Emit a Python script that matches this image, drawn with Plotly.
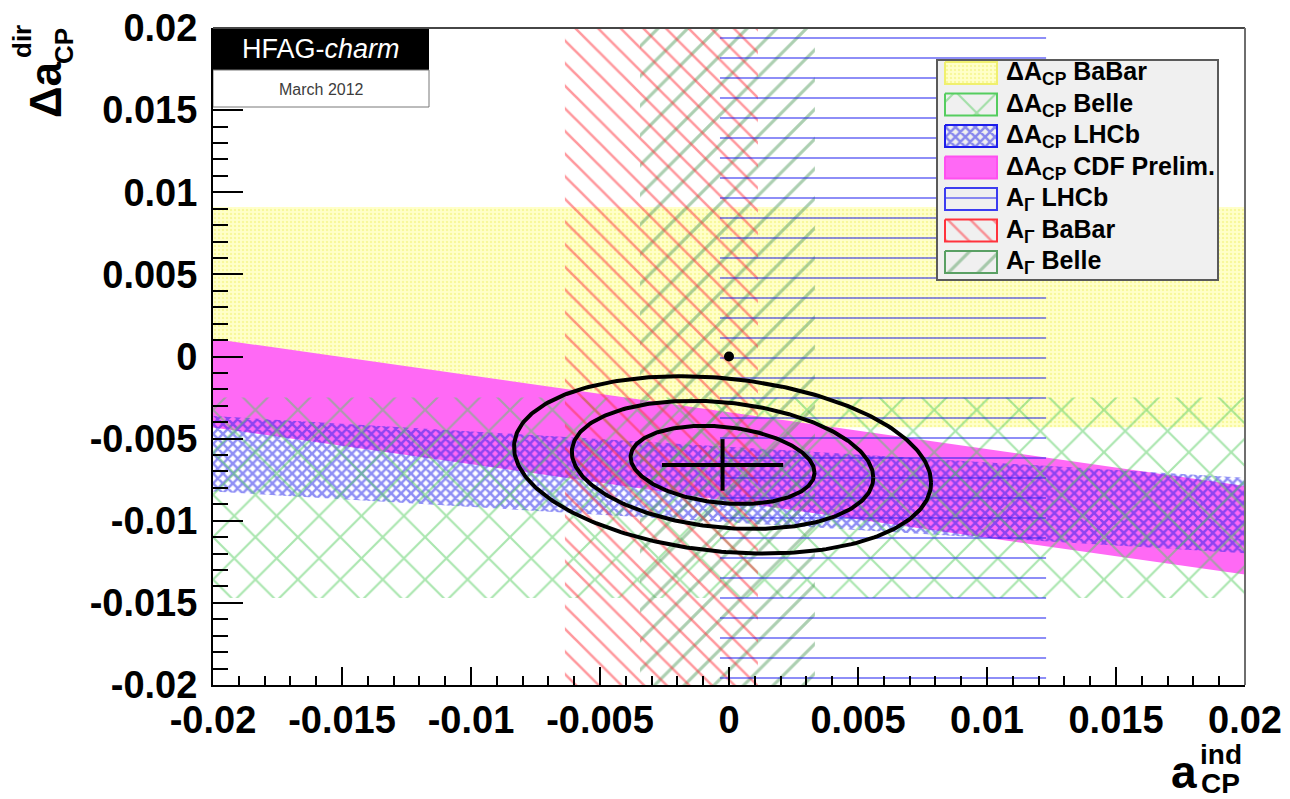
import numpy as np
import plotly.graph_objects as go

# ---------------- data ----------------
tick_vals = [-0.02, -0.015, -0.01, -0.005, 0.0, 0.005, 0.01, 0.015, 0.02]
tick_text = ["-0.02", "-0.015", "-0.01", "-0.005", "0", "0.005", "0.01", "0.015", "0.02"]

# Delta A_CP bands: delta a_dir = dacp_value - dacp_tfrac * a_ind  (+/- dacp_err)
dacp_labels = ["BaBar", "Belle", "LHCb", "CDF Prelim."]
dacp_value = [0.0024, -0.0086, -0.0078, -0.0061]
dacp_err = [0.0067, 0.0061, 0.0023, 0.0027]
dacp_tfrac = [0.0, 0.0, 0.094, 0.224]

# A_Gamma bands: a_ind = ag_value +/- ag_err
ag_labels = ["LHCb", "BaBar", "Belle"]
ag_value = [0.00597, -0.00262, -0.00006]
ag_err = [0.00632, 0.00374, 0.00339]

# combined fit
fit_a_ind = -0.00025
fit_da_dir = -0.0066
fit_sig_a = 0.00235
fit_sig_d = 0.00157
fit_rho = -0.2
contour_dchi2 = [2.30, 6.18, 11.83]
no_cpv_point = [0.0, 0.0]

# ---------------- styles ----------------
FONT = "Liberation Sans"
dacp_style = {
    "BaBar": dict(fillcolor="rgb(254,254,190)", pattern=dict(shape=".", size=4, solidity=0.3,
                  fgcolor="rgb(240,240,110)", bgcolor="rgb(255,255,202)"), edge="rgb(240,240,110)"),
    "Belle": dict(fillcolor="rgb(85,205,95)", pattern=dict(shape="x", size=30, solidity=0.14,
                  fgcolor="rgb(85,205,95)", bgcolor="rgba(0,0,0,0)"), edge="rgb(85,205,95)"),
    "LHCb": dict(fillcolor="rgb(30,30,235)", pattern=dict(shape="x", size=7, solidity=0.6,
                 fgcolor="rgb(30,30,235)", bgcolor="rgba(0,0,0,0)"), edge="rgb(30,30,235)"),
    "CDF Prelim.": dict(fillcolor="rgb(255,105,245)", pattern=None, edge="rgb(255,80,240)"),
}
ag_style = {
    "LHCb": dict(fillcolor="rgb(30,30,240)", pattern=dict(shape="-", size=20, solidity=0.1,
                 fgcolor="rgb(30,30,240)", bgcolor="rgba(0,0,0,0)"), edge="rgb(60,60,240)"),
    "BaBar": dict(fillcolor="rgb(255,50,60)", pattern=dict(shape="\\", size=16, solidity=0.16,
                  fgcolor="rgb(255,50,60)", bgcolor="rgba(0,0,0,0)"), edge="rgb(255,50,60)"),
    "Belle": dict(fillcolor="rgb(90,160,100)", pattern=dict(shape="/", size=21, solidity=0.15,
                  fgcolor="rgb(90,160,100)", bgcolor="rgba(0,0,0,0)"), edge="rgb(90,160,100)"),
}

# reference pixel frame of the plot area; OFF compensates the page's body margin
PL, PR, PT, PB = 213, 1245, 28, 685
W, H = 1290, 799
OFF = 8


def px(x):
    return (x - PL) / (PR - PL)


def py(y):
    return (PB - y) / (PB - PT)


fig = go.Figure()


def band_trace(xs, ys, st, xaxis="x", yaxis="y", line=None):
    kw = dict(x=xs, y=ys, fill="toself", mode="lines", hoverinfo="skip", showlegend=False,
              xaxis=xaxis, yaxis=yaxis, fillcolor=st["fillcolor"])
    kw["line"] = line if line else dict(width=0, color="rgba(0,0,0,0)")
    if st["pattern"] is not None:
        kw["fillpattern"] = st["pattern"]
    return go.Scatter(**kw)


# Delta A_CP bands (draw order: BaBar, CDF, LHCb, Belle)
xa = np.array([-0.025, 0.025])
for name in ["BaBar", "CDF Prelim.", "LHCb", "Belle"]:
    i = dacp_labels.index(name)
    centre = dacp_value[i] - dacp_tfrac[i] * xa
    xs = [xa[0], xa[1], xa[1], xa[0], xa[0]]
    ys = [centre[0] + dacp_err[i], centre[1] + dacp_err[i], centre[1] - dacp_err[i],
          centre[0] - dacp_err[i], centre[0] + dacp_err[i]]
    fig.add_trace(band_trace(xs, ys, dacp_style[name]))

# A_Gamma bands
for name in ["Belle", "BaBar", "LHCb"]:
    i = ag_labels.index(name)
    lo, hi = ag_value[i] - ag_err[i], ag_value[i] + ag_err[i]
    xs = [lo, hi, hi, lo, lo]
    ys = [-0.025, -0.025, 0.025, 0.025, -0.025]
    fig.add_trace(band_trace(xs, ys, ag_style[name]))

# combined-fit contours
t = np.linspace(0, 2 * np.pi, 300)
for d2 in contour_dchi2:
    r = np.sqrt(d2)
    ex = fit_a_ind + r * fit_sig_a * np.cos(t)
    ey = fit_da_dir + r * fit_sig_d * (fit_rho * np.cos(t) + np.sqrt(1 - fit_rho ** 2) * np.sin(t))
    fig.add_trace(go.Scatter(x=ex, y=ey, mode="lines", line=dict(color="black", width=4),
                             hoverinfo="skip", showlegend=False))

# central value with 1 sigma errors
fig.add_trace(go.Scatter(x=[fit_a_ind - fit_sig_a, fit_a_ind + fit_sig_a], y=[fit_da_dir, fit_da_dir],
                         mode="lines", line=dict(color="black", width=4), showlegend=False, hoverinfo="skip"))
fig.add_trace(go.Scatter(x=[fit_a_ind, fit_a_ind], y=[fit_da_dir - fit_sig_d, fit_da_dir + fit_sig_d],
                         mode="lines", line=dict(color="black", width=4), showlegend=False, hoverinfo="skip"))
# no-CPV point
fig.add_trace(go.Scatter(x=[no_cpv_point[0]], y=[no_cpv_point[1]], mode="markers",
                         marker=dict(color="black", size=10), showlegend=False, hoverinfo="skip"))

# ---------------- custom legend (pixel-coordinate overlay axes) ----------------
LX0, LX1, LY0, LY1 = 937, 1218, 60, 280
fig.add_trace(go.Scatter(x=[LX0, LX1, LX1, LX0, LX0], y=[LY0, LY0, LY1, LY1, LY0], fill="toself",
                         fillcolor="rgb(240,240,240)", mode="lines", line=dict(width=0),
                         xaxis="x2", yaxis="y2", showlegend=False, hoverinfo="skip"))

legend_entries = [("ΔA<sub>CP</sub> " + n, dacp_style[n]) for n in dacp_labels] + \
                 [("A<sub>Γ</sub> " + n, ag_style[n]) for n in ag_labels]
annotations = []
for k, (label, st) in enumerate(legend_entries):
    yc = 73 + 31.5 * k
    xs = [945, 997, 997, 945, 945]
    ys = [yc - 11, yc - 11, yc + 11, yc + 11, yc - 11]
    fig.add_trace(band_trace(xs, ys, st, xaxis="x2", yaxis="y2", line=dict(color=st["edge"], width=2)))
    annotations.append(dict(x=1004, y=yc, xref="x2", yref="y2", text=label, showarrow=False,
                            xanchor="left", yanchor="middle",
                            font=dict(family=FONT, size=25, color="black", weight="bold")))

shapes = [
    # legend frame
    dict(type="rect", xref="x2", yref="y2", x0=LX0, x1=LX1, y0=LY0, y1=LY1,
         line=dict(color="rgb(90,90,90)", width=2), layer="above"),
    # HFAG box
    dict(type="rect", xref="x2", yref="y2", x0=213, x1=429, y0=28, y1=70,
         fillcolor="black", line=dict(width=0), layer="above"),
    dict(type="rect", xref="x2", yref="y2", x0=213, x1=429, y0=70, y1=107,
         fillcolor="white", line=dict(color="rgb(120,120,120)", width=1), layer="above"),
    # top and right frame
    dict(type="line", xref="paper", yref="paper", x0=0, x1=1, y0=1, y1=1,
         line=dict(color="rgb(70,70,70)", width=2), layer="above"),
    dict(type="line", xref="paper", yref="paper", x0=1, x1=1, y0=0, y1=1,
         line=dict(color="rgb(110,110,110)", width=2), layer="above"),
]


def ann(xp, yp, text, size, angle=0, bold=True, color="black"):
    f = dict(family=FONT, size=size, color=color)
    if bold:
        f["weight"] = "bold"
    return dict(x=px(xp), y=py(yp), xref="paper", yref="paper", text=text, textangle=angle,
                showarrow=False, xanchor="center", yanchor="middle", font=f)


annotations += [
    dict(x=321, y=49, xref="x2", yref="y2", text="HFAG-<i>charm</i>", showarrow=False,
         xanchor="center", yanchor="middle", font=dict(family=FONT, size=27, color="white")),
    dict(x=321, y=89, xref="x2", yref="y2", text="March 2012", showarrow=False,
         xanchor="center", yanchor="middle", font=dict(family=FONT, size=16, color="rgb(60,60,60)")),
    # y title
    ann(45, 90, "Δa", 44, angle=-90),
    ann(22, 42, "dir", 26, angle=-90),
    ann(64, 46, "CP", 26, angle=-90),
    # x title
    ann(1184, 772, "a", 46),
    ann(1221, 755, "ind", 28),
    ann(1220, 783, "CP", 28),
]

tickfont = dict(family=FONT, size=38, color="black", weight="bold")
fig.update_layout(
    width=W - OFF, height=H - OFF, autosize=False,
    margin=dict(l=PL - OFF, r=W - PR, t=PT - OFF, b=H - PB, pad=0),
    paper_bgcolor="white", plot_bgcolor="white",
    showlegend=False,
    xaxis=dict(range=[-0.02, 0.02], tickvals=tick_vals, ticktext=tick_text, ticks="inside",
               ticklen=18, tickwidth=2, tickcolor="black", showline=True, linewidth=2,
               linecolor="black", showgrid=False, zeroline=False, tickfont=tickfont,
               automargin=False, ticklabeloverflow="allow",
               minor=dict(dtick=0.001, tick0=0, ticks="inside", ticklen=9, tickwidth=1.5,
                          tickcolor="black", showgrid=False)),
    yaxis=dict(range=[-0.02, 0.02], tickvals=tick_vals, ticktext=tick_text, ticks="inside",
               ticklen=30, tickwidth=2, tickcolor="black", showline=True, linewidth=2,
               linecolor="black", showgrid=False, zeroline=False, tickfont=tickfont,
               ticklabelstandoff=6, automargin=False, ticklabeloverflow="allow",
               minor=dict(dtick=0.001, tick0=0, ticks="inside", ticklen=15, tickwidth=1.5,
                          tickcolor="black", showgrid=False)),
    xaxis2=dict(overlaying="x", anchor="y2", range=[PL, PR], visible=False, showgrid=False),
    yaxis2=dict(overlaying="y", anchor="x2", range=[PB, PT], visible=False, showgrid=False),
    shapes=shapes,
    annotations=annotations,
)

fig.write_html("out.html")
